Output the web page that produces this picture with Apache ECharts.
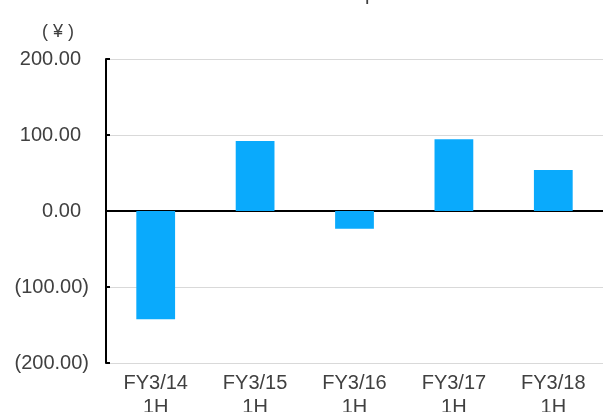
<!DOCTYPE html>
<html>
<head>
<meta charset="utf-8">
<script src="https://cdn.jsdelivr.net/npm/echarts@6/dist/echarts.min.js"></script>
<style>
html, body { margin: 0; padding: 0; background: #fff; }
#chart { width: 603px; height: 412px; }
</style>
</head>
<body>
<div id="chart"></div>
<script>
// 半期ごとの値
var categories = ['FY3/14\n1H', 'FY3/15\n1H', 'FY3/16\n1H', 'FY3/17\n1H', 'FY3/18\n1H'];
var values = [-142.5, 92, -23.5, 94.5, 54];
var yTicks = [-200, -100, 0, 100, 200];

var font = 'Liberation Sans, Arial, sans-serif';

// 負の値は括弧書き、正の値は括弧の分だけ右をあける
var fmt = function (v) {
    var s = Math.abs(v).toFixed(2);
    return v < 0 ? '(' + s + ')' : '{p|' + s + '}';
};

var myChart = echarts.init(document.getElementById('chart'));
myChart.setOption({
    animation: false,
    textStyle: { fontFamily: font },
    graphic: [
        {
            // タイトル（上端で切れている）
            type: 'text',
            x: 354,
            y: -16,
            style: { text: 'Net income per share', fontSize: 20, fill: '#404040', fontFamily: font, align: 'center', verticalAlign: 'top' }
        },
        {
            type: 'text',
            left: 42,
            top: 23,
            style: { text: '( ¥ )', fontSize: 18, fill: '#404040', fontFamily: font }
        }
    ],
    grid: { left: 106, right: 0, top: 59, bottom: 49, outerBoundsMode: 'none' },
    xAxis: [
        {
            type: 'category',
            data: categories,
            axisLine: { show: false, onZero: false },
            axisTick: { show: false },
            axisLabel: { color: '#404040', fontSize: 20, lineHeight: 24, margin: 8 }
        },
        {
            type: 'category',
            data: categories,
            position: 'bottom',
            axisLine: { onZero: true, lineStyle: { color: '#000', width: 2 } },
            axisTick: { inside: true, length: 5, lineStyle: { color: '#000', width: 2 } },
            axisLabel: { show: false }
        }
    ],
    yAxis: {
        type: 'value',
        min: yTicks[0],
        max: yTicks[yTicks.length - 1],
        interval: 100,
        axisLine: { show: true, lineStyle: { color: '#000', width: 2 } },
        axisTick: { show: true, inside: true, length: 4, lineStyle: { color: '#000', width: 2 } },
        axisLabel: {
            color: '#404040', fontSize: 20, margin: 17, formatter: fmt,
            rich: { p: { fontSize: 20, color: '#404040', padding: [0, 8, 0, 0] } }
        },
        splitLine: { show: true, lineStyle: { color: '#d9d9d9', width: 1 } }
    },
    series: [{
        type: 'bar',
        xAxisIndex: 0,
        data: values,
        barWidth: '39%',
        itemStyle: { color: '#0aaafc' }
    }]
});
</script>
</body>
</html>
